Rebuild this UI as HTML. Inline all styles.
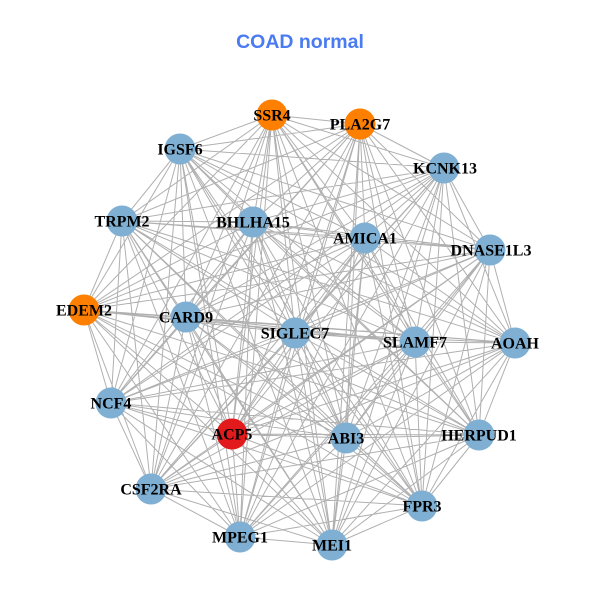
<!DOCTYPE html>
<html><head><meta charset="utf-8"><style>
html,body{margin:0;padding:0;background:#fff;}
svg{display:block;}
</style></head><body>
<svg width="600" height="600" viewBox="0 0 600 600" xmlns="http://www.w3.org/2000/svg">
<rect width="600" height="600" fill="#fff"/>
<text x="300" y="48" text-anchor="middle" font-family="Liberation Sans, Arial, sans-serif" font-weight="bold" font-size="19.5" fill="#4a7bf2">COAD normal</text>
<path fill="none" stroke="#b0b0b0" stroke-width="1" d="
M272 115L360 124M272 115L180 149M272 115L444 168M272 115L122 221M272 115L253 222M272 115L365 238M272 115L490 250M272 115L84 310M272 115L186 317M272 115L295 333M272 115L415 342M272 115L515 343M272 115L111 403M272 115L232 434M272 115L346 438M272 115L479 435M272 115L151 489M272 115L422 506M272 115L240 537M272 115L332 545
M360 124L180 149M360 124L444 168M360 124L122 221M360 124L253 222M360 124L365 238M360 124L490 250M360 124L84 310M360 124L186 317M360 124L295 333M360 124L415 342M360 124L515 343M360 124L111 403M360 124L232 434M360 124L346 438M360 124L479 435M360 124L151 489M360 124L422 506M360 124L240 537M360 124L332 545
M180 149L444 168M180 149L122 221M180 149L253 222M180 149L365 238M180 149L490 250M180 149L84 310M180 149L186 317M180 149L295 333M180 149L415 342M180 149L515 343M180 149L111 403M180 149L232 434M180 149L346 438M180 149L479 435M180 149L151 489M180 149L422 506M180 149L240 537M180 149L332 545
M444 168L122 221M444 168L253 222M444 168L365 238M444 168L490 250M444 168L84 310M444 168L186 317M444 168L295 333M444 168L415 342M444 168L515 343M444 168L111 403M444 168L232 434M444 168L346 438M444 168L479 435M444 168L151 489M444 168L422 506M444 168L240 537M444 168L332 545
M122 221L253 222M122 221L365 238M122 221L490 250M122 221L84 310M122 221L186 317M122 221L295 333M122 221L415 342M122 221L515 343M122 221L111 403M122 221L232 434M122 221L346 438M122 221L479 435M122 221L151 489M122 221L422 506M122 221L240 537M122 221L332 545
M253 222L365 238M253 222L490 250M253 222L84 310M253 222L186 317M253 222L295 333M253 222L415 342M253 222L515 343M253 222L111 403M253 222L232 434M253 222L346 438M253 222L479 435M253 222L151 489M253 222L422 506M253 222L240 537M253 222L332 545
M365 238L490 250M365 238L84 310M365 238L186 317M365 238L295 333M365 238L415 342M365 238L515 343M365 238L111 403M365 238L232 434M365 238L346 438M365 238L479 435M365 238L151 489M365 238L422 506M365 238L240 537M365 238L332 545
M490 250L84 310M490 250L186 317M490 250L295 333M490 250L415 342M490 250L515 343M490 250L111 403M490 250L232 434M490 250L346 438M490 250L479 435M490 250L151 489M490 250L422 506M490 250L240 537M490 250L332 545
M84 310L186 317M84 310L295 333M84 310L415 342M84 310L515 343M84 310L111 403M84 310L232 434M84 310L346 438M84 310L479 435M84 310L151 489M84 310L422 506M84 310L240 537M84 310L332 545
M186 317L295 333M186 317L415 342M186 317L515 343M186 317L111 403M186 317L232 434M186 317L346 438M186 317L479 435M186 317L151 489M186 317L422 506M186 317L240 537M186 317L332 545
M295 333L415 342M295 333L515 343M295 333L111 403M295 333L232 434M295 333L346 438M295 333L479 435M295 333L151 489M295 333L422 506M295 333L240 537M295 333L332 545
M415 342L515 343M415 342L111 403M415 342L232 434M415 342L346 438M415 342L479 435M415 342L151 489M415 342L422 506M415 342L240 537M415 342L332 545
M515 343L111 403M515 343L232 434M515 343L346 438M515 343L479 435M515 343L151 489M515 343L422 506M515 343L240 537M515 343L332 545
M111 403L232 434M111 403L346 438M111 403L479 435M111 403L151 489M111 403L422 506M111 403L240 537M111 403L332 545
M232 434L346 438M232 434L479 435M232 434L151 489M232 434L422 506M232 434L240 537M232 434L332 545
M346 438L479 435M346 438L151 489M346 438L422 506M346 438L240 537M346 438L332 545
M479 435L151 489M479 435L422 506M479 435L240 537M479 435L332 545
M151 489L422 506M151 489L240 537M151 489L332 545
M422 506L240 537M422 506L332 545
M240 537L332 545"/>
<g>
<circle cx="272" cy="115" r="15.5" fill="#ff7f00"/>
<circle cx="360" cy="124" r="15.5" fill="#ff7f00"/>
<circle cx="180" cy="149" r="15.5" fill="#7fb0d3"/>
<circle cx="444" cy="168" r="15.5" fill="#7fb0d3"/>
<circle cx="122" cy="221" r="15.5" fill="#7fb0d3"/>
<circle cx="253" cy="222" r="15.5" fill="#7fb0d3"/>
<circle cx="365" cy="238" r="15.5" fill="#7fb0d3"/>
<circle cx="490" cy="250" r="15.5" fill="#7fb0d3"/>
<circle cx="84" cy="310" r="15.5" fill="#ff7f00"/>
<circle cx="186" cy="317" r="15.5" fill="#7fb0d3"/>
<circle cx="295" cy="333" r="15.5" fill="#7fb0d3"/>
<circle cx="415" cy="342" r="15.5" fill="#7fb0d3"/>
<circle cx="515" cy="343" r="15.5" fill="#7fb0d3"/>
<circle cx="111" cy="403" r="15.5" fill="#7fb0d3"/>
<circle cx="232" cy="434" r="15.5" fill="#e31a1c"/>
<circle cx="346" cy="438" r="15.5" fill="#7fb0d3"/>
<circle cx="479" cy="435" r="15.5" fill="#7fb0d3"/>
<circle cx="151" cy="489" r="15.5" fill="#7fb0d3"/>
<circle cx="422" cy="506" r="15.5" fill="#7fb0d3"/>
<circle cx="240" cy="537" r="15.5" fill="#7fb0d3"/>
<circle cx="332" cy="545" r="15.5" fill="#7fb0d3"/>
</g>
<g font-family="Liberation Serif, 'Times New Roman', serif" font-weight="bold" font-size="16" fill="#000" text-anchor="middle">
<text x="272" y="120.5">SSR4</text>
<text x="360" y="129.5">PLA2G7</text>
<text x="180" y="154.5">IGSF6</text>
<text x="445" y="173.5">KCNK13</text>
<text x="122" y="226.5">TRPM2</text>
<text x="253" y="227.5">BHLHA15</text>
<text x="365" y="243.5">AMICA1</text>
<text x="491" y="255.5">DNASE1L3</text>
<text x="84" y="315.5">EDEM2</text>
<text x="186" y="322.5">CARD9</text>
<text x="295" y="338.5">SIGLEC7</text>
<text x="415" y="347.5">SLAMF7</text>
<text x="515" y="348.5">AOAH</text>
<text x="111" y="408.5">NCF4</text>
<text x="232" y="439.5">ACP5</text>
<text x="346" y="443.5">ABI3</text>
<text x="479" y="440.5">HERPUD1</text>
<text x="151" y="494.5">CSF2RA</text>
<text x="422" y="511.5">FPR3</text>
<text x="240" y="542.5">MPEG1</text>
<text x="332" y="550.5">MEI1</text>
</g>
</svg>
</body></html>
